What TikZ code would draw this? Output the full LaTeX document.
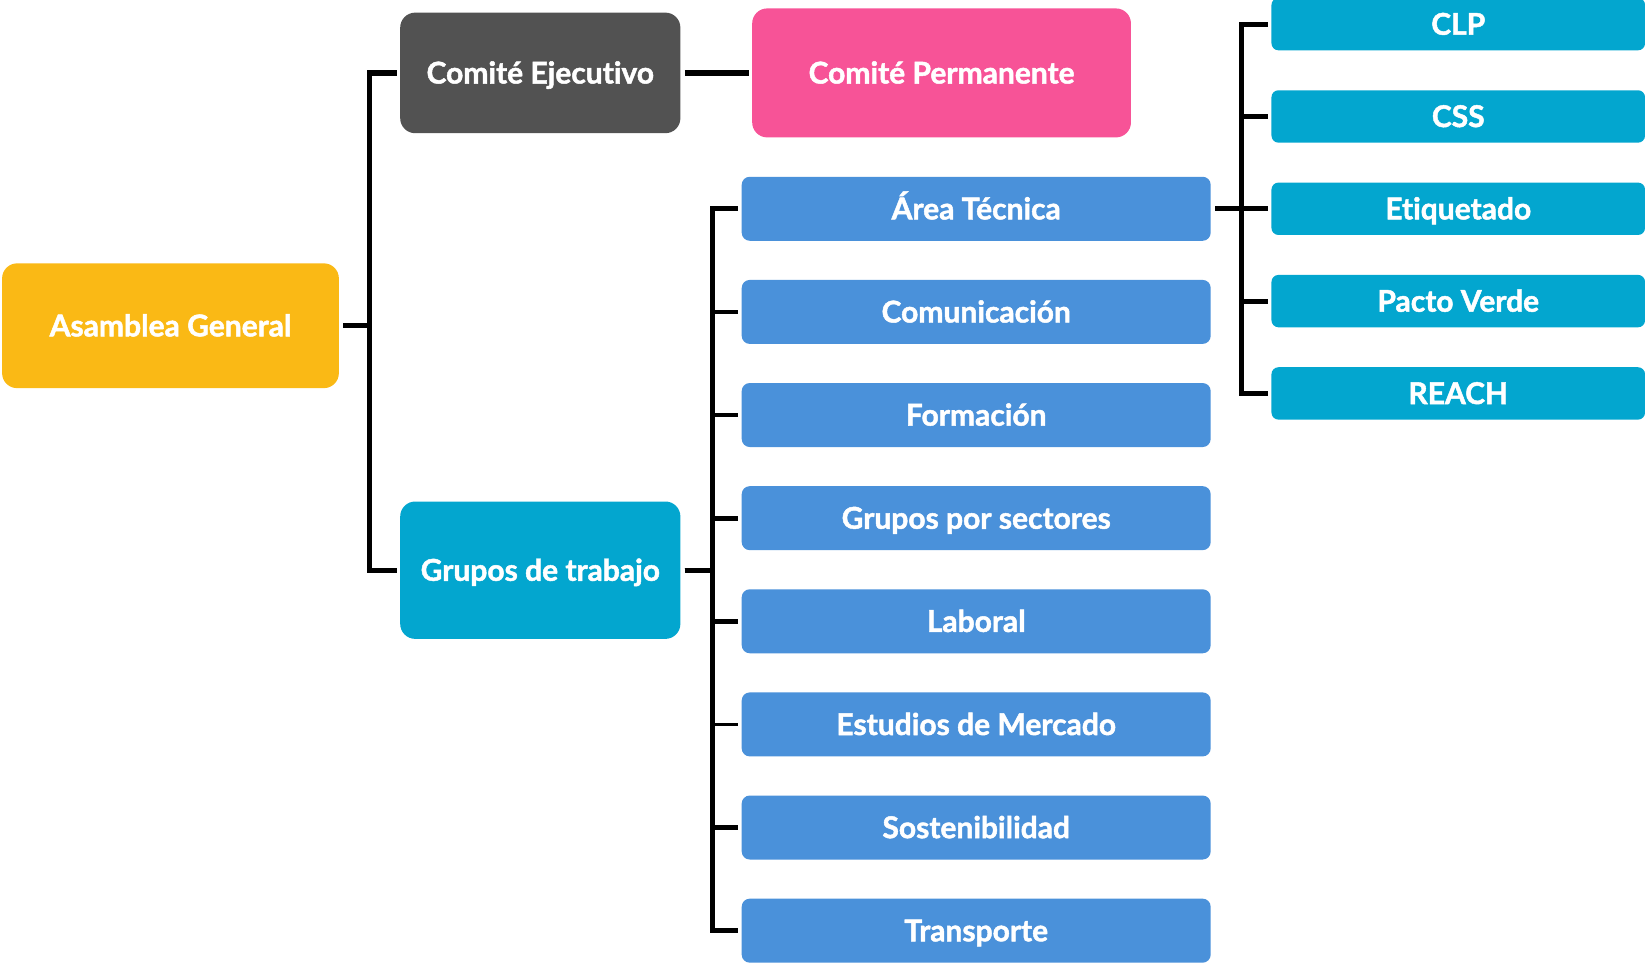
\documentclass[tikz,border=0pt]{standalone}
\usepackage{fontspec}
\setmainfont{Lato}[Ligatures=NoCommon, BoldFeatures={FakeBold=1.6}]
\usetikzlibrary{positioning}
\definecolor{agyellow}{HTML}{FAB915}
\definecolor{cegray}{HTML}{525252}
\definecolor{cppink}{HTML}{F75397}
\definecolor{gtcyan}{HTML}{03A6CF}
\definecolor{wgblue}{HTML}{4A91DA}

\begin{document}
\begin{tikzpicture}[x=0.5246pt, y=-0.5246pt,
  box/.style={inner sep=0pt, text=white, text height=10.6pt, text depth=0pt,
    font=\bfseries\fontsize{15}{17}\selectfont},
  bigbox/.style={box, rounded corners=7.5pt},
  wgbox/.style={box, fill=wgblue, rounded corners=4pt, minimum width=234.5pt, minimum height=32pt},
  subbox/.style={box, fill=gtcyan, rounded corners=3.5pt, minimum width=186.8pt, minimum height=26.2pt},
  conn/.style={line width=2.6pt, shorten <=2pt, shorten >=1.5pt}]
\useasboundingbox (0,0) rectangle (1568,917);
\node[bigbox, fill=agyellow, minimum width=168.4pt, minimum height=62.4pt] (ag) at (162.5,310.5) {Asamblea General};
\node[bigbox, fill=cegray, minimum width=140.1pt, minimum height=60.3pt] (ce) at (515,69.5) {Comité Ejecutivo};
\node[bigbox, fill=cppink, minimum width=189.4pt, minimum height=64.5pt] (cp) at (897.5,69.5) {Comité Permanente};
\node[bigbox, fill=gtcyan, minimum width=140.1pt, minimum height=68.7pt] (gt) at (515,543.5) {Grupos de trabajo};
% grupos de trabajo
\foreach\txt/\lw [count=\i] in {Área Técnica/2.6pt, Comunicación/1.8pt, Formación/1.8pt,
    Grupos por sectores/2.6pt, Laboral/2.6pt, Estudios de Mercado/1.8pt,
    Sostenibilidad/2.6pt, Transporte/2.6pt}{
  \node[wgbox] (wg\i) at (930.5,{199+(\i-1)*98.3}) {\txt};
  \draw[conn, line width=\lw] (gt.east) -- ++(30,0) |- (wg\i.west);
}
% area tecnica
\foreach\txt [count=\i] in {CLP, CSS, Etiquetado, Pacto Verde, REACH}{
  \node[subbox] (sub\i) at (1390,{23+(\i-1)*88}) {\txt};
  \draw[conn] (wg1.east) -- ++(29,0) |- (sub\i.west);
}
\draw[conn] (ag.east) -- ++(29,0) |- (ce.west);
\draw[conn] (ag.east) -- ++(29,0) |- (gt.west);
\draw[conn] (ce.east) -- (cp.west);
\end{tikzpicture}
\end{document}
